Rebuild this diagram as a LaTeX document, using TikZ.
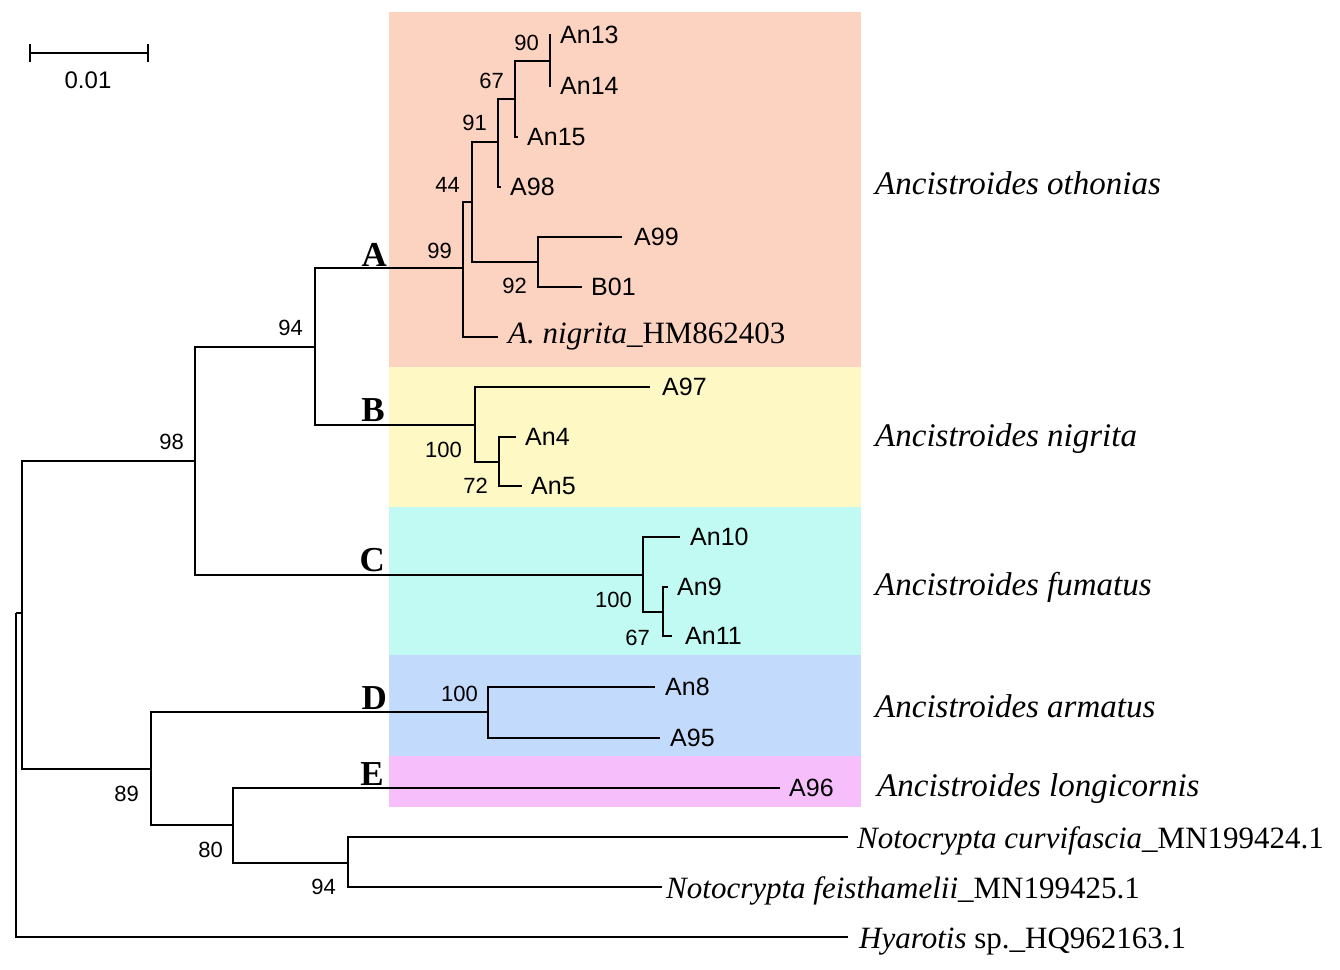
\documentclass[tikz,border=0pt]{standalone}
\usepackage{fontspec}
\setmainfont{Liberation Serif}
\setsansfont{Liberation Sans}
\definecolor{cA}{RGB}{252,211,193}
\definecolor{cB}{RGB}{254,248,197}
\definecolor{cC}{RGB}{192,250,242}
\definecolor{cD}{RGB}{194,218,252}
\definecolor{cE}{RGB}{246,190,250}
\begin{document}
\begin{tikzpicture}[x=1pt,y=-1pt,
  br/.style={line width=1.9pt},
  tip/.style={anchor=base west, inner sep=0pt, font=\sffamily\fontsize{25}{25}\selectfont},
  boot/.style={anchor=base east, inner sep=0pt, font=\sffamily\fontsize{22}{22}\selectfont},
  clade/.style={anchor=base east, inner sep=0pt, font=\bfseries\fontsize{35}{35}\selectfont},
  sp/.style={anchor=base west, inner sep=0pt, font=\itshape\fontsize{33}{33}\selectfont},
  acc/.style={anchor=base west, inner sep=0pt, font=\fontsize{31}{31}\selectfont}]
\useasboundingbox (0,0) rectangle (1340,969);
\fill[white] (0,0) rectangle (1340,969);
% clade boxes
\fill[cA] (389,12) rectangle (861,367);
\fill[cB] (389,367) rectangle (861,507);
\fill[cC] (389,507) rectangle (861,655);
\fill[cD] (389,655) rectangle (861,756);
\fill[cE] (389,756) rectangle (861,807);
% scale bar
\coordinate (sb1) at (30,53);
\coordinate (sb2) at (148,53);
\draw[br] (sb1) -- (sb2);
\draw[br] ([yshift=-9pt]sb1) -- ([yshift=9pt]sb1);
\draw[br] ([yshift=-9pt]sb2) -- ([yshift=9pt]sb2);
\node[anchor=base, inner sep=0pt, font=\sffamily\fontsize{24}{24}\selectfont] (sbl) at (88,88) {0.01};
% internal nodes
\coordinate (root) at (16,613);
\coordinate (n0) at (22,613);
\coordinate (n98) at (195,461);
\coordinate (n94) at (315,347);
\coordinate (nA) at (463,268);
\coordinate (n44) at (472,202);
\coordinate (n91) at (498,142);
\coordinate (n67) at (515,99);
\coordinate (n90) at (550,61);
\coordinate (n92) at (538,262);
\coordinate (nB) at (475,425);
\coordinate (n72) at (499,462);
\coordinate (nC) at (643,575);
\coordinate (n67c) at (663,612);
\coordinate (n89) at (151,769);
\coordinate (nD) at (488,712);
\coordinate (n80) at (233,825);
\coordinate (n94b) at (348,863);
% tips
\coordinate (tAn13) at (551,35);
\coordinate (tAn14) at (551,86);
\coordinate (tAn15) at (518,137);
\coordinate (tA98) at (501,187);
\coordinate (tA99) at (622,237);
\coordinate (tB01) at (582,287);
\coordinate (tnig) at (498,337);
\coordinate (tA97) at (650,387);
\coordinate (tAn4) at (516,437);
\coordinate (tAn5) at (522,486);
\coordinate (tAn10) at (680,537);
\coordinate (tAn9) at (668,587);
\coordinate (tAn11) at (672,636);
\coordinate (tAn8) at (655,687);
\coordinate (tA95) at (660,738);
\coordinate (tA96) at (780,788);
\coordinate (tNc) at (848,837);
\coordinate (tNf) at (662,887);
\coordinate (tHy) at (848,937);
% branches
\draw[br] (root) |- (n0);
\draw[br] (root) |- (tHy);
\draw[br] (n0) |- (n98);
\draw[br] (n0) |- (n89);
\draw[br] (n98) |- (n94);
\draw[br] (n98) |- (nC);
\draw[br] (n94) |- (nA);
\draw[br] (n94) |- (nB);
\draw[br] (nA) |- (n44);
\draw[br] (nA) |- (tnig);
\draw[br] (n44) |- (n91);
\draw[br] (n44) |- (n92);
\draw[br] (n91) |- (n67);
\draw[br] (n91) |- (tA98);
\draw[br] (n67) |- (n90);
\draw[br] (n67) |- (tAn15);
\draw[br] (n90) |- (tAn13);
\draw[br] (n90) |- (tAn14);
\draw[br] (n92) |- (tA99);
\draw[br] (n92) |- (tB01);
\draw[br] (nB) |- (tA97);
\draw[br] (nB) |- (n72);
\draw[br] (n72) |- (tAn4);
\draw[br] (n72) |- (tAn5);
\draw[br] (nC) |- (tAn10);
\draw[br] (nC) |- (n67c);
\draw[br] (n67c) |- (tAn9);
\draw[br] (n67c) |- (tAn11);
\draw[br] (n89) |- (nD);
\draw[br] (n89) |- (n80);
\draw[br] (nD) |- (tAn8);
\draw[br] (nD) |- (tA95);
\draw[br] (n80) |- (tA96);
\draw[br] (n80) |- (n94b);
\draw[br] (n94b) |- (tNc);
\draw[br] (n94b) |- (tNf);
% tip labels
\node[tip] (lAn13) at (560,43) {An13};
\node[tip] (lAn14) at (560,94) {An14};
\node[tip] (lAn15) at (527,145) {An15};
\node[tip] (lA98) at (510,195) {A98};
\node[tip] (lA99) at (634,245) {A99};
\node[tip] (lB01) at (591,295) {B01};
\node[acc] (lnig) at (508,343) {\textit{A. nigrita}\_HM862403};
\node[tip] (lA97) at (662,395) {A97};
\node[tip] (lAn4) at (525,445) {An4};
\node[tip] (lAn5) at (531,494) {An5};
\node[tip] (lAn10) at (690,545) {An10};
\node[tip] (lAn9) at (677,595) {An9};
\node[tip] (lAn11) at (685,644) {An11};
\node[tip] (lAn8) at (665,695) {An8};
\node[tip] (lA95) at (670,746) {A95};
\node[tip] (lA96) at (789,796) {A96};
\node[acc] (lNc) at (857,848) {\textit{Notocrypta curvifascia}\_MN199424.1};
\node[acc] (lNf) at (666,898) {\textit{Notocrypta feisthamelii}\_MN199425.1};
\node[acc] (lHy) at (859,948) {\textit{Hyarotis} sp.\_HQ962163.1};
% bootstrap values
\node[boot] (b90) at (539,50) {90};
\node[boot] (b67) at (504,88) {67};
\node[boot] (b91) at (487,130) {91};
\node[boot] (b44) at (460,192) {44};
\node[boot] (b99) at (452,258) {99};
\node[boot] (b92) at (527,293) {92};
\node[boot] (b94) at (303,335) {94};
\node[boot] (b98) at (184,449) {98};
\node[boot] (b100B) at (462,457) {100};
\node[boot] (b72) at (488,493) {72};
\node[boot] (b100C) at (632,607) {100};
\node[boot] (b67C) at (650,645) {67};
\node[boot] (b100D) at (478,701) {100};
\node[boot] (b89) at (139,801) {89};
\node[boot] (b80) at (223,857) {80};
\node[boot] (b94b) at (336,894) {94};
% clade letters
\node[clade] (cla) at (387,266) {A};
\node[clade] (clb) at (385,421) {B};
\node[clade] (clc) at (385,571) {C};
\node[clade] (cld) at (387,709) {D};
\node[clade] (cle) at (384,785) {E};
% species names
\node[sp] (sA) at (875,194) {Ancistroides othonias};
\node[sp] (sB) at (875,446) {Ancistroides nigrita};
\node[sp] (sC) at (875,595) {Ancistroides fumatus};
\node[sp] (sD) at (875,717) {Ancistroides armatus};
\node[sp] (sE) at (877,796) {Ancistroides longicornis};
\end{tikzpicture}
\end{document}
